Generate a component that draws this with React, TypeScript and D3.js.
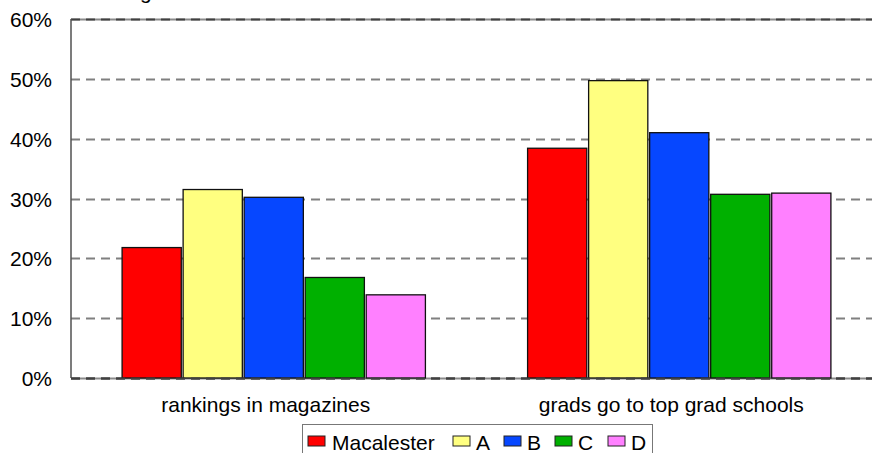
import React from "react";
import * as d3 from "d3";

const categories = ["rankings in magazines", "grads go to top grad schools"];
const seriesNames = ["Macalester", "A", "B", "C", "D"];
const seriesColors = ["#FF0000", "#FFFF80", "#0647FF", "#00B000", "#FF80FF"];
const valuesMacalester = [21.8, 38.4];
const valuesA = [31.5, 49.7];
const valuesB = [30.2, 41.0];
const valuesC = [16.8, 30.7];
const valuesD = [13.9, 30.9];
const yTicks = [0, 10, 20, 30, 40, 50, 60];

const seriesValues = [valuesMacalester, valuesA, valuesB, valuesC, valuesD];

const W = 872;
const H = 453;
const plotLeft = 71;
const plotRight = 882;
const plotTop = 19;
const plotBottom = 378;
const font = "'Liberation Sans', Arial, sans-serif";
const fs = 21;

export default function App() {
  const x0 = d3.scaleBand<string>().domain(categories).range([plotLeft, plotRight]).padding(0);
  const bw = x0.bandwidth();
  const x1 = d3
    .scaleBand<string>()
    .domain(seriesNames)
    .range([bw * 0.126, bw * 0.874])
    .paddingInner(0.03)
    .paddingOuter(0);
  const y = d3.scaleLinear().domain([0, 60]).range([plotBottom, plotTop]);

  const legendItems = [
    { x: 308, tx: 332 },
    { x: 453, tx: 476 },
    { x: 504, tx: 527 },
    { x: 555, tx: 578 },
    { x: 608, tx: 631 },
  ];

  return (
    <svg
      width={W}
      height={H}
      style={{ position: "absolute", left: 0, top: 0, background: "#fff" }}
      fontFamily={font}
    >
      <rect x={0} y={0} width={W} height={H} fill="#fff" />
      {/* cut-off title remnant, as in the reference */}
      <text x={140} y={-1.5} fontSize={fs} fill="#000">g</text>

      {/* gridlines */}
      {yTicks.map((t) => {
        const yy = Math.round(y(t)) + 0.5;
        const edge = t === 0 || t === 60;
        return (
          <g key={t}>
            {edge && (
              <line x1={plotLeft} x2={plotRight} y1={yy} y2={yy} stroke="#8a8a8a" strokeWidth={2} />
            )}
            <line
              x1={plotLeft}
              x2={plotRight}
              y1={yy}
              y2={yy}
              stroke={edge ? "#404040" : "#808080"}
              strokeWidth={2}
              strokeDasharray="9,6"
            />
            <text
              x={52}
              y={yy}
              dy="0.36em"
              textAnchor="end"
              fontSize={fs}
              fill="#000"
            >
              {t + "%"}
            </text>
          </g>
        );
      })}

      {/* left axis */}
      <line x1={plotLeft} x2={plotLeft} y1={plotTop} y2={plotBottom} stroke="#505050" strokeWidth={1.5} />

      {/* bars */}
      {categories.map((c, ci) => (
        <g key={c} transform={`translate(${x0(c)},0)`}>
          {seriesNames.map((s, si) => {
            const v = seriesValues[si][ci];
            return (
              <rect
                key={s}
                x={x1(s)}
                y={y(v)}
                width={x1.bandwidth()}
                height={y(0) - y(v)}
                fill={seriesColors[si]}
                stroke="#111"
                strokeWidth={1.3}
              />
            );
          })}
          <text
            x={bw / 2 - 8}
            y={411.5}
            textAnchor="middle"
            fontSize={fs}
            fill="#000"
          >
            {c}
          </text>
        </g>
      ))}

      {/* baseline on top */}
      <line x1={plotLeft} x2={plotRight} y1={378.5} y2={378.5} stroke="#404040" strokeWidth={2} strokeDasharray="9,6" />

      {/* legend */}
      <rect x={302.5} y={424.5} width={350} height={40} fill="#fff" stroke="#777" strokeWidth={1} />
      {seriesNames.map((s, i) => (
        <g key={s}>
          <rect
            x={legendItems[i].x}
            y={436}
            width={17}
            height={10}
            fill={seriesColors[i]}
            stroke="#222"
            strokeWidth={1}
          />
          <text x={legendItems[i].tx} y={450} fontSize={fs} fill="#000">
            {s}
          </text>
        </g>
      ))}
    </svg>
  );
}
